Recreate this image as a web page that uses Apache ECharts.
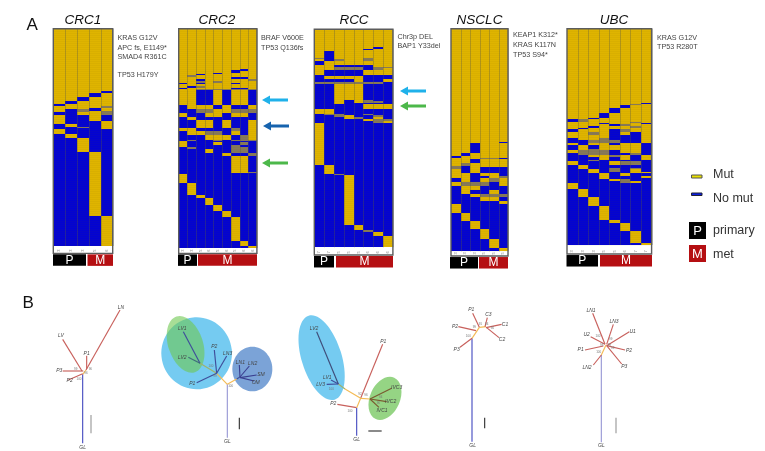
<!DOCTYPE html>
<html><head><meta charset="utf-8">
<style>html,body{margin:0;padding:0;background:#fff}#c{width:765px;height:451px;filter:blur(0.4px)}</style>
<script src="https://cdn.jsdelivr.net/npm/echarts@6/dist/echarts.min.js"></script>
</head><body><div id="c"></div>
<script>
// Heatmap rows: [row span, state per sample] 0 = no mut, 1 = mut, 2 = ambiguous
const crc1Rows=[[187,'11111'],[5,'11110'],[14,'11101'],[10,'11011'],[10,'10111'],[6,'01111'],[5,'11112'],[4,'11101'],[6,'10201'],[2,'10212'],[10,'00112'],[18,'10010'],[9,'10001'],[8,'01001'],[5,'00201'],[2,'00001'],[16,'10000'],[12,'01000'],[40,'00100'],[193,'00010'],[90,'00001']];
const crc2Rows=[[121,'111111111'],[3,'111111101'],[2,'111111001'],[6,'111111011'],[4,'111101111'],[4,'110111111'],[4,'121111111'],[2,'111111111'],[6,'111111001'],[4,'110111112'],[6,'112121111'],[4,'010111011'],[6,'111111111'],[5,'102111111'],[3,'011111001'],[4,'112222222'],[46,'110010110'],[12,'011101001'],[10,'002211222'],[12,'100110110'],[10,'010000000'],[25,'001101001'],[7,'110000201'],[13,'011220101'],[15,'000111021'],[3,'020020222'],[4,'100000000'],[9,'100010020'],[6,'100000200'],[6,'020000220'],[10,'000100220'],[2,'000000020'],[8,'000001002'],[49,'000000110'],[3,'000000112'],[2,'000000000'],[26,'100000000'],[36,'010000000'],[11,'001000000'],[20,'000100000'],[19,'000010000'],[18,'000001000'],[70,'000000100'],[17,'000000010'],[5,'000000001']];
const rccRows=[[54,'11111111'],[5,'11111101'],[4,'11111011'],[2,'11111111'],[22,'10111111'],[3,'20111211'],[4,'10211211'],[13,'01111111'],[5,'11000011'],[5,'11222022'],[5,'11222021'],[15,'10000111'],[2,'00000000'],[10,'01111000'],[8,'00001001'],[7,'22222220'],[48,'00111000'],[2,'00101200'],[1,'00101020'],[6,'00101220'],[2,'00100000'],[15,'00000111'],[2,'00000000'],[13,'11000000'],[5,'02200200'],[5,'00210020'],[5,'00012010'],[7,'00000122'],[7,'00000021'],[125,'10000000'],[28,'01000000'],[3,'00200000'],[149,'00010000'],[16,'00001000'],[5,'00000200'],[12,'00000010'],[34,'00000001']];
const nsclcRows=[[339,'111111'],[3,'111110'],[31,'110111'],[8,'101111'],[6,'011111'],[5,'111220'],[12,'110111'],[7,'121111'],[5,'201111'],[6,'201000'],[10,'101000'],[9,'110110'],[6,'110012'],[12,'010121'],[12,'122201'],[13,'011000'],[13,'010010'],[7,'001222'],[13,'000110'],[9,'000001'],[28,'100000'],[24,'010000'],[24,'001000'],[30,'000100'],[26,'000010'],[10,'000001']];
const ubcRows=[[222,'11111111'],[4,'11111110'],[4,'11111121'],[7,'11111011'],[16,'11110111'],[15,'11101111'],[4,'11011111'],[7,'02111111'],[3,'11111121'],[4,'11101110'],[6,'11110211'],[5,'11011121'],[5,'10111111'],[7,'01110211'],[10,'11210101'],[8,'11110001'],[7,'01120001'],[8,'00222001'],[7,'10110110'],[12,'01011110'],[3,'01211110'],[8,'12220110'],[7,'02220020'],[7,'00112101'],[8,'00010101'],[2,'00200000'],[13,'10001220'],[10,'01000000'],[3,'01002020'],[9,'00102010'],[3,'00100011'],[8,'00010100'],[7,'00010001'],[3,'00010000'],[5,'00001200'],[5,'00000210'],[2,'00000011'],[18,'10000000'],[24,'01000000'],[26,'00100000'],[42,'00010000'],[10,'00001000'],[23,'00000100'],[35,'00000010'],[7,'00000001']];
const crc1Samples=['3','3','3','5','6'];
const crc2Samples=['3','3','5','6','5','6','5','6','6'];
const rccSamples=['7','7','5','5','5','6','6','6'];
const nsclcSamples=['3','3','3','5','5','5'];
const ubcSamples=['3','3','3','5','5','6','7','7'];

const COL={mut:'#dfb400',none:'#0303d2',mid:'#86795a',frame:'#5c5c5c'};
const panels=[
 {rows:crc1Rows,samples:crc1Samples,left:53.3,top:28.7,width:59.4,strip:22,title:'CRC1',tx:83,
  notes:[['KRAS G12V',38],['APC fs, E1149*',48],['SMAD4 R361C',57.5],['TP53 H179Y',75.5]],nx:117.5,bar:[[53,86,'#000','P'],[87.5,113,'#b50f12','M']]},
 {rows:crc2Rows,samples:crc2Samples,left:178.7,top:28.7,width:78.2,strip:16,title:'CRC2',tx:217,
  notes:[['BRAF V600E',38],['TP53 Q136fs',48]],nx:261,bar:[[178,197,'#000','P'],[198,257,'#b50f12','M']]},
 {rows:rccRows,samples:rccSamples,left:314.3,top:29.3,width:78.6,strip:23,title:'RCC',tx:354,
  notes:[['Chr3p DEL',37],['BAP1 Y33del',46.5]],nx:397.5,bar:[[314,334,'#000','P'],[336,393,'#b50f12','M']]},
 {rows:nsclcRows,samples:nsclcSamples,left:451,top:28.7,width:57,strip:14,title:'NSCLC',tx:479.5,
  notes:[['KEAP1 K312*',35.5],['KRAS K117N',45],['TP53 S94*',55]],nx:513,bar:[[450,478,'#000','P'],[479,508,'#b50f12','M']]},
 {rows:ubcRows,samples:ubcSamples,left:567,top:28.7,width:84.6,strip:27,title:'UBC',tx:614,
  notes:[['KRAS G12V',38],['TP53 R280T',47.5]],nx:657,bar:[[566.5,598,'#000','P'],[600,652,'#b50f12','M']]}
];

// Phylogenies: edges are [x1,y1,x2,y2,kind] in each tree plot's own units
const RED='#c8605c',BLU='#4a50c2',LAV='#9a9ad6',ORG='#f4bb55',GRN='#9fb26a',GRY='#9a9a9a',BLK='#333333';
const treesLeftEdges=[
 [248,475,248,268,BLU],[248,268,258,255,ORG],[258,255,360,75,RED],[260,252,260,212,RED],[188,163,246,258,RED],[188,258,250,258,RED],[205,285,248,266,RED],
 [682,458,682,298,LAV],[682,298,710,282,ORG],[682,298,650,265,ORG],[650,265,600,235,GRN],[650,265,590,293,'#3f4d9a'],[650,265,643,195,'#3f4d9a'],[650,265,680,213,'#3f4d9a'],[600,235,550,140,'#3f4d9a'],[600,235,565,217,'#3f6d7a'],[710,282,720,276,'#3f4d9a'],[720,276,718,240,'#3a3f90'],[720,276,748,243,'#3a3f90'],[720,278,770,270,'#3a3f90'],[722,278,762,288,'#3a3f90'],
 [1070,452,1070,368,BLU],[1070,368,1012,358,RED],[1070,368,1082,340,ORG],[1082,340,1148,178,RED],[1082,340,1110,342,ORG],[1082,340,1035,312,ORG],[1035,312,1015,297,GRN],[1015,297,950,140,'#3f4d7a'],[1015,297,993,285,'#3f4d9a'],[1015,297,980,298,'#3f4d9a'],[1110,342,1175,310,'#7a5a30'],[1110,342,1160,350,'#7a5a30'],[1110,342,1137,367,'#7a5a30'],
 [273,390,273,445,GRY],[718,398,718,433,BLK],[1105,438,1145,438,BLK]
];
const treesLeftLabels=[['LN',363,68],['LV',183,151],['P1',260,206],['P3',178,258],['P2',209,288],['GL',248,487],
 ['LV1',547,132],['LV2',547,219],['P2',643,184],['LN3',683,205],['P1',577,297],['LN1',721,233],['LN2',758,236],['SM',783,270],['OM',767,293],['GL',682,470],
 ['LV2',942,130],['LV1',982,278],['LV3',962,300],['P1',1150,170],['P2',1000,357],['IVC3',1190,307],['IVC2',1172,351],['IVC1',1146,376],['GL',1070,463]];
const treesLeftSupport=[['100',237,284],['99',227,252],['96',271,252],['96',258,266],['100',692,305],['100',633,245],['99',645,275],['100',994,312],['100',1050,378],['92',1080,328],['96',1098,332],['94',1142,337],['96',1135,355]];
const treesLeftBlobs=[
 [590,205,106,108,0.1,'rgba(110,200,240,0.95)'],[557,178,52,88,0.32,'rgba(110,200,80,0.6)'],[757,252,60,67,0,'rgba(90,140,205,0.8)'],
 [965,218,60,132,0.3,'rgba(110,200,240,0.95)'],[1155,340,45,68,-0.42,'rgba(130,205,110,0.85)']];
const treesRightEdges=[
 [216,470,216,160,BLU],[216,160,238,127,ORG],[238,127,258,125,ORG],[216,160,180,187,RED],[175,125,228,137,RED],[218,85,238,127,RED],[262,98,255,125,RED],[305,118,258,128,RED],[297,158,260,128,RED],
 [604,472,604,210,LAV],[604,210,618,180,ORG],[580,240,604,210,RED],[555,195,610,183,RED],[572,155,615,178,RED],[578,85,615,178,RED],[640,118,620,178,RED],[688,140,620,182,RED],[675,195,620,182,RED],[665,237,620,182,RED],
 [254,398,254,430,BLK],[648,398,648,445,GRY]
];
const treesRightLabels=[['P1',214,75],['C3',265,90],['C1',315,119],['C2',306,164],['P2',165,124],['P3',170,195],['GL',218,483],
 ['LN1',573,77],['LN3',642,110],['U1',698,139],['U2',560,150],['P1',542,195],['P2',687,198],['P3',673,244],['LN2',561,247],['GL',604,483]];
const treesRightSupport=[['100',205,155],['99',223,127],['91',241,118],['94',260,118],['94',277,130],['100',596,203],['100',594,155],['98',605,180],['99',632,163],['99',628,182],['99',638,190]];

const grid=[],xAxis=[],yAxis=[],series=[],title=[],graphic=[];
function text(t,x,y,size,opt){graphic.push({type:'text',x,y,style:Object.assign({text:t,fontFamily:'Liberation Sans',fontSize:size,fill:'#333',textVerticalAlign:'middle'},opt||{}),z:10});}
function box(x,y,w,h,fill,stroke){graphic.push({type:'rect',shape:{x,y,width:w,height:h},style:{fill,stroke:stroke||null,lineWidth:stroke?1:0},z:10});}
function arrow(x0,x1,y,col){graphic.push({type:'polygon',shape:{points:[[x0,y],[x0+8,y-4.5],[x0+8,y-1.5],[x1,y-1.5],[x1,y+1.5],[x0+8,y+1.5],[x0+8,y+4.5]]},style:{fill:col},z:10});}

panels.forEach((p,pi)=>{
 const total=p.rows.reduce((a,r)=>a+r[0],0);
 const max=total+p.strip;
 grid.push({left:p.left,top:p.top,width:p.width,height:max/3,show:false});
 xAxis.push({gridIndex:pi,type:'category',data:p.samples,axisTick:{show:false},axisLine:{show:false},
   axisLabel:{inside:true,rotate:90,fontSize:4,margin:1.5,color:'#777',fontFamily:'Liberation Sans'}});
 yAxis.push({gridIndex:pi,type:'value',inverse:true,min:0,max,show:false,splitLine:{show:false}});
 const cells=[];let y=0;
 p.rows.forEach(r=>{ [...r[1]].forEach((s,c)=>cells.push([c,y,y+r[0],+s])); y+=r[0]; });
 series.push({type:'custom',xAxisIndex:pi,yAxisIndex:pi,data:cells,silent:true,z:2,encode:{x:0,y:[1,2]},
  renderItem(params,api){
   const a=api.coord([api.value(0),api.value(1)]),b=api.coord([api.value(0),api.value(2)]);
   const w=api.size([1,0])[0],s=api.value(3);
   const x0=Math.round(a[0]-w/2),x1=Math.round(a[0]+w/2),y0=Math.round(a[1]),y1=Math.round(b[1]);
   return {type:'rect',shape:{x:x0,y:y0,width:x1-x0,height:y1-y0},
    style:{fill:s===1?COL.mut:s===2?COL.mid:COL.none,stroke:null}};
  }});
 // faint ruling between rows, column dividers and the frame
 const rules=[];for(let v=6;v<total;v+=6)rules.push([v]);
 series.push({type:'custom',xAxisIndex:pi,yAxisIndex:pi,data:rules,silent:true,z:3,encode:{y:0},
  renderItem(params,api){const yy=Math.round(api.coord([0,api.value(0)])[1])+0.5;const g=params.coordSys;
   return {type:'line',shape:{x1:g.x,y1:yy,x2:g.x+g.width,y2:yy},style:{stroke:'rgba(110,90,0,0.05)',lineWidth:1}};}});
 const divs=p.samples.map((_,i)=>[i]);
 series.push({type:'custom',xAxisIndex:pi,yAxisIndex:pi,data:divs,silent:true,z:4,encode:{x:0},
  renderItem(params,api){const c=api.coord([api.value(0),0]),w=api.size([1,0])[0],e=api.coord([api.value(0),total]);
   const xx=Math.round(c[0]+w/2)+0.5;
   return {type:'line',shape:{x1:xx,y1:c[1],x2:xx,y2:e[1]},style:{stroke:'rgba(90,90,70,0.35)',lineWidth:1}};}});
 series.push({type:'custom',xAxisIndex:pi,yAxisIndex:pi,data:[[0]],silent:true,z:5,
  renderItem(params){const g=params.coordSys;
   return {type:'rect',shape:{x:g.x,y:g.y,width:g.width,height:g.height},style:{fill:'none',stroke:COL.frame,lineWidth:1.4}};}});
 title.push({text:p.title,left:p.tx,top:12.5,padding:0,textAlign:'center',textStyle:{fontFamily:'Liberation Sans',fontStyle:'italic',fontWeight:'normal',fontSize:13.5,color:'#111',lineHeight:15}});
 p.notes.forEach(n=>text(n[0],p.nx,n[1],7.2,{fill:'#444'}));
 const barTop=p.top+max/3+1;
 p.bar.forEach(b=>{box(b[0],barTop,b[1]-b[0],11.5,b[2]);
   text(b[3],(b[0]+b[1])/2,barTop+6,12,{fill:'#fff',textAlign:'center'});});
});

function addTrees(left,top,w,h,edges,labels,support,blobs){
 const idx=grid.length;
 grid.push({left,top,width:w,height:h,show:false});
 xAxis.push({gridIndex:idx,type:'value',min:0,max:w*3,show:false,splitLine:{show:false}});
 yAxis.push({gridIndex:idx,type:'value',inverse:true,min:0,max:h*3,show:false,splitLine:{show:false}});
 if(blobs.length)series.push({type:'custom',xAxisIndex:idx,yAxisIndex:idx,data:blobs,silent:true,z:2,
  renderItem(params,api){const i=params.dataIndex,b=blobs[i];const c=api.coord([b[0],b[1]]);
   const sx=api.size([1,1]);
   return {type:'ellipse',x:c[0],y:c[1],rotation:b[4],shape:{cx:0,cy:0,rx:b[2]*sx[0],ry:b[3]*sx[1]},style:{fill:b[5]}};}});
 series.push({type:'custom',xAxisIndex:idx,yAxisIndex:idx,data:edges.map(e=>e.slice(0,4)),silent:true,z:3,
  renderItem(params,api){const e=edges[params.dataIndex];
   const a=api.coord([e[0],e[1]]),b=api.coord([e[2],e[3]]);
   return {type:'line',shape:{x1:a[0],y1:a[1],x2:b[0],y2:b[1]},style:{stroke:e[4],lineWidth:1.15}};}});
 const tl=(list,size,fill,style)=>series.push({type:'custom',xAxisIndex:idx,yAxisIndex:idx,data:list.map(l=>[l[1],l[2]]),silent:true,z:4,
  renderItem(params,api){const l=list[params.dataIndex];const c=api.coord([l[1],l[2]]);
   return {type:'text',x:c[0],y:c[1],style:{text:l[0],fontFamily:'Liberation Sans',fontStyle:style,fontSize:size,fill,textAlign:'center',textVerticalAlign:'middle'}};}});
 tl(labels,5,'#444','italic');
 tl(support,3,'#777','normal');
}
addTrees(0,285,410,166,treesLeftEdges,treesLeftLabels,treesLeftSupport,treesLeftBlobs);
addTrees(400,285,260,166,treesRightEdges,treesRightLabels,treesRightSupport,[]);

text('A',26.5,25,17,{fill:'#111'});
text('B',22.5,303,17,{fill:'#111'});
arrow(262,288,100,'#1fb1ea');arrow(263,289,126,'#1663ae');arrow(262,288,163,'#4cb84a');
arrow(400,426,91,'#1fb1ea');arrow(400,426,106,'#4cb84a');
box(691.5,175,10.5,3,'#e8e000','#555');box(691.5,193,10.5,2.5,'#0a1ee0','#223');
text('Mut',713,175,12.5,{fill:'#333'});text('No mut',713,199,12.5,{fill:'#333'});
box(689,222,17,17,'#000');box(689,245,17,17,'#b50f12');
text('P',697.5,231,13,{fill:'#fff',textAlign:'center'});text('M',697.5,254,13,{fill:'#fff',textAlign:'center'});
text('primary',713,231,12.5,{fill:'#333'});text('met',713,254.5,12.5,{fill:'#333'});

const chart=echarts.init(document.getElementById('c'),null,{renderer:'canvas'});
chart.setOption({animation:false,backgroundColor:'#fff',title,grid,xAxis,yAxis,series,graphic:{elements:graphic}});
</script></body></html>
